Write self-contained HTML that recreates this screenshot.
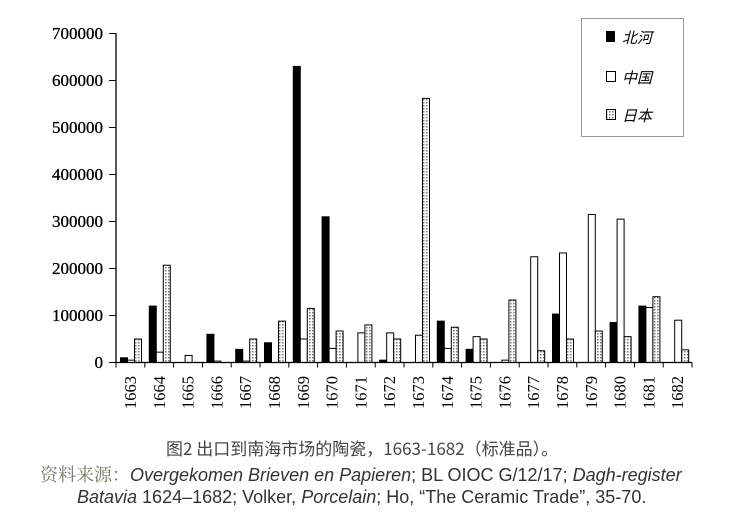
<!DOCTYPE html>
<html><head><meta charset="utf-8"><style>
html,body{margin:0;padding:0;background:#fff;width:751px;height:528px;overflow:hidden}
svg{position:absolute;left:0;top:0}
.cap{position:absolute;white-space:nowrap;font-family:"Liberation Sans","Noto Sans CJK SC",sans-serif;font-size:18px;color:#333}
</style></head><body>
<svg id="s" width="751" height="528" xmlns="http://www.w3.org/2000/svg">
<defs><pattern id="dot" width="3" height="3" patternUnits="userSpaceOnUse"><rect width="3" height="3" fill="#fff"/><rect width="1.5" height="1.5" fill="#777"/></pattern></defs>
<g id="g"></g>
<rect x="581.5" y="18.5" width="102" height="118" fill="#fff" stroke="#999" stroke-width="1"/>
<rect x="606" y="31" width="9" height="11" fill="#000"/>
<text x="622" y="43" font-family="Noto Sans CJK SC,sans-serif" font-size="15" font-style="italic">北河</text>
<rect x="606.5" y="71.5" width="9" height="10" fill="#fff" stroke="#000"/>
<text x="622" y="83" font-family="Noto Sans CJK SC,sans-serif" font-size="15" font-style="italic">中国</text>
<rect x="606.5" y="109.5" width="9" height="10" fill="url(#dot)" stroke="#000"/>
<text x="622" y="121" font-family="Noto Sans CJK SC,sans-serif" font-size="15" font-style="italic">日本</text>
</svg>
<div class="cap" style="left:166px;top:435px;font-size:17px;color:#444;font-family:'Noto Sans CJK SC',sans-serif">图2 出口到南海市场的陶瓷，1663-1682（标准品）。</div>
<div class="cap" style="left:40px;top:461px"><span style="font-family:'Noto Serif CJK SC',serif;color:#776">资料来源：</span><i>Overgekomen Brieven en Papieren</i>; BL OIOC G/12/17; <i>Dagh-register</i></div>
<div class="cap" style="left:77px;top:487px"><i>Batavia</i> 1624–1682; Volker, <i>Porcelain</i>; Ho, “The Ceramic Trade”, 35-70.</div>
<script>
var d=[[10,5,50],[120,22,207],[0,15,0],[60,3,0],[28,3,50],[42,0,88],[630,50,115],[310,30,67],[0,63,80],[5,63,50],[0,58,562],[88,30,75],[28,55,50],[0,5,133],[0,225,25],[103,233,50],[0,315,67],[85,305,55],[120,117,140],[0,90,27]];
var y0=362.5,k=0.47,x0=116,w=28.8,h='';
var fills=['#000','#fff','url(#dot)'];
d.forEach(function(r,i){r.forEach(function(v,j){if(!v)return;var ht=v*k;var x=x0+i*w+4+j*7;h+='<rect x="'+(x+0.5)+'" y="'+(y0-ht)+'" width="7" height="'+ht+'" fill="'+fills[j]+'" stroke="#000" stroke-width="1"/>';});
h+='<text transform="translate('+(x0+i*w+20)+',409) rotate(-90)" font-family="Liberation Serif,serif" font-size="16.5">'+(1663+i)+'</text>';});
for(var i=0;i<=20;i++)h+='<line x1="'+(x0+i*w)+'" y1="'+y0+'" x2="'+(x0+i*w)+'" y2="'+(y0+5)+'" stroke="#000"/>';
for(var t=0;t<=7;t++){var y=y0-t*47;h+='<line x1="109" y1="'+y+'" x2="'+x0+'" y2="'+y+'" stroke="#000"/><text x="103" y="'+(y+5.5)+'" text-anchor="end" font-family="Liberation Serif,serif" font-size="17" stroke="#000" stroke-width="0.3">'+(t*100000)+'</text>';}
h+='<line x1="'+x0+'" y1="33" x2="'+x0+'" y2="'+y0+'" stroke="#000" stroke-width="1.3"/><line x1="'+x0+'" y1="'+y0+'" x2="'+(x0+20*w)+'" y2="'+y0+'" stroke="#000" stroke-width="1.3"/>';
document.getElementById('g').innerHTML=h;
</script>
</body></html>
